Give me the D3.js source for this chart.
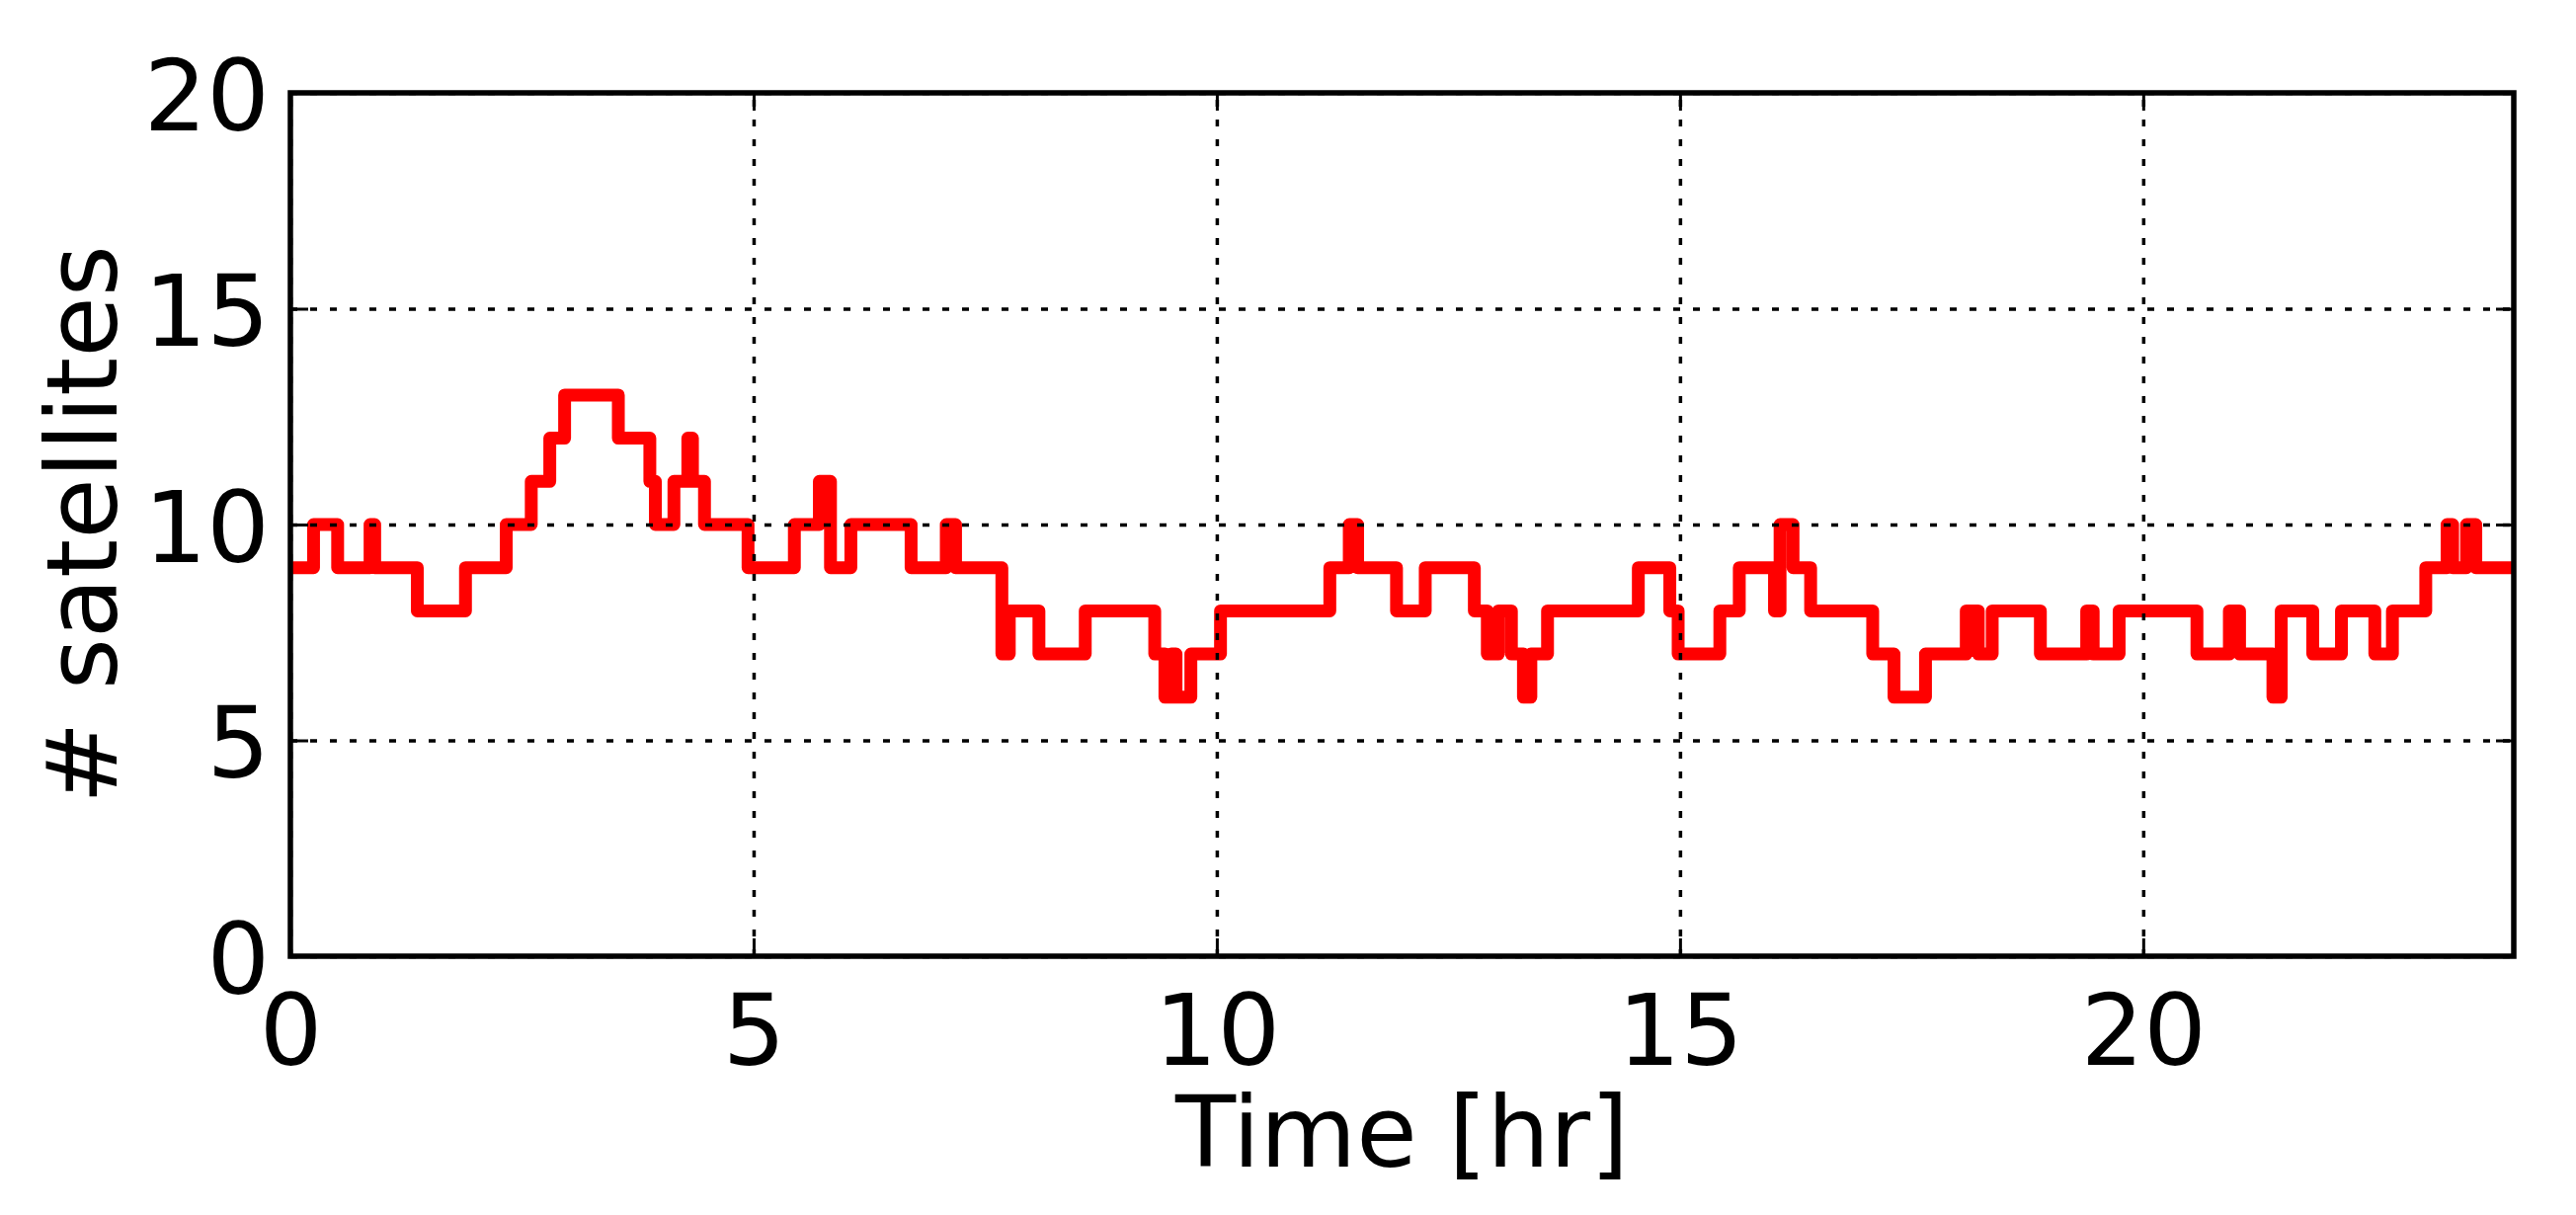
<!DOCTYPE html>
<html>
<head>
<meta charset="utf-8">
<script src="https://cdnjs.cloudflare.com/ajax/libs/d3/7.8.5/d3.min.js"></script>
<style>
  body { margin: 0; background: #fff; }
  text { font-family: "DejaVu Sans", sans-serif; }
</style>
</head>
<body>
<script>
// step change times [hr] and the satellite count that holds from each time on
var times = [0, 0.25, 0.51, 0.86, 0.91, 1.37, 1.89, 2.33, 2.60, 2.80, 2.96, 3.54, 3.88, 3.94,
    4.14, 4.29, 4.34, 4.47, 4.94, 5.44, 5.71, 5.83, 6.05, 6.70, 7.08, 7.18, 7.68, 7.76, 8.08,
    8.58, 9.33, 9.44, 9.51, 9.56, 9.72, 10.04, 11.22, 11.43, 11.52, 11.94, 12.25, 12.78, 12.92,
    13.04, 13.18, 13.31, 13.39, 13.57, 14.55, 14.89, 14.98, 15.43, 15.64, 16.02, 16.08, 16.22,
    16.41, 17.08, 17.31, 17.65, 18.09, 18.22, 18.37, 18.89, 19.39, 19.46, 19.74, 20.58, 20.93,
    21.04, 21.40, 21.49, 21.83, 22.14, 22.50, 22.69, 23.05, 23.28, 23.34, 23.49, 23.59, 24];
var sats = [9, 10, 9, 10, 9, 8, 9, 10, 11, 12, 13, 12, 11, 10,
    11, 12, 11, 10, 9, 10, 11, 9, 10, 9, 10, 9, 7, 8, 7,
    8, 7, 6, 7, 6, 7, 8, 9, 10, 9, 8, 9, 8, 7,
    8, 7, 6, 7, 8, 9, 8, 7, 8, 9, 8, 10, 9,
    8, 7, 6, 7, 8, 7, 8, 7, 8, 7, 8, 7, 8,
    7, 6, 8, 7, 8, 7, 8, 9, 10, 9, 10, 9, 9];

var xTicks = [0, 5, 10, 15, 20];
var yTicks = [0, 5, 10, 15, 20];
var xLabel = "Time [hr]";
var yLabel = "# satellites";

var W = 2608, H = 1230;
var margin = { top: 94, right: 63, bottom: 262, left: 294 },
    width = W - margin.left - margin.right,
    height = H - margin.top - margin.bottom;

var svg = d3.select("body").append("svg")
    .attr("width", W)
    .attr("height", H);

var g = svg.append("g")
    .attr("transform", "translate(" + margin.left + "," + margin.top + ")");

var x = d3.scaleLinear().domain([0, 24]).range([0, width]);
var y = d3.scaleLinear().domain([0, 20]).range([height, 0]);

g.append("defs").append("clipPath").attr("id", "plotclip")
    .append("rect").attr("width", width).attr("height", height);

// the red step line
var data = times.map(function (t, i) { return { t: t, n: sats[i] }; });
var line = d3.line()
    .x(function (d) { return x(d.t); })
    .y(function (d) { return y(d.n); })
    .curve(d3.curveStepAfter);

g.append("path")
    .datum(data)
    .attr("clip-path", "url(#plotclip)")
    .attr("d", line)
    .attr("fill", "none")
    .attr("stroke", "#ff0000")
    .attr("stroke-width", 13)
    .attr("stroke-linejoin", "round");

// dotted grid, drawn over the line like old matplotlib
var gridX = g.append("g")
    .attr("transform", "translate(0," + height + ")")
    .call(d3.axisBottom(x).tickValues(xTicks).tickSize(-height).tickFormat(""));
var gridY = g.append("g")
    .call(d3.axisLeft(y).tickValues(yTicks).tickSize(-width).tickFormat(""));
[gridX, gridY].forEach(function (gr) {
    gr.select(".domain").remove();
    gr.selectAll("line")
        .attr("stroke", "#000")
        .attr("stroke-width", 3.5)
        .attr("stroke-dasharray", "7,13");
});

// inward ticks on all four sides
var tick = 18;
var axB = g.append("g").attr("transform", "translate(0," + height + ")")
    .call(d3.axisBottom(x).tickValues(xTicks).tickSize(-tick).tickPadding(39));
var axT = g.append("g")
    .call(d3.axisTop(x).tickValues(xTicks).tickSize(-tick).tickFormat(""));
var axL = g.append("g")
    .call(d3.axisLeft(y).tickValues(yTicks).tickSize(-tick).tickPadding(21));
var axR = g.append("g").attr("transform", "translate(" + width + ",0)")
    .call(d3.axisRight(y).tickValues(yTicks).tickSize(-tick).tickFormat(""));

[axB, axT, axL, axR].forEach(function (ax) {
    ax.select(".domain").remove();
    ax.selectAll("line").attr("stroke", "#000").attr("stroke-width", 3);
    ax.selectAll("text")
        .attr("fill", "#000")
        .style("font-family", "'DejaVu Sans', sans-serif")
        .style("font-size", "100px");
});
axL.selectAll("text").attr("dy", "0.37em");
axB.selectAll("text").attr("dy", "0.71em");

// axes frame
g.append("rect")
    .attr("width", width)
    .attr("height", height)
    .attr("fill", "none")
    .attr("stroke", "#000")
    .attr("stroke-width", 5.5);

// axis labels
svg.append("text")
    .attr("x", margin.left + width / 2)
    .attr("y", 1181)
    .attr("text-anchor", "middle")
    .style("font-size", "100px")
    .text(xLabel);

svg.append("text")
    .attr("transform", "translate(118," + (margin.top + height / 2) + ") rotate(-90)")
    .attr("text-anchor", "middle")
    .style("font-size", "100px")
    .text(yLabel);
</script>
</body>
</html>
